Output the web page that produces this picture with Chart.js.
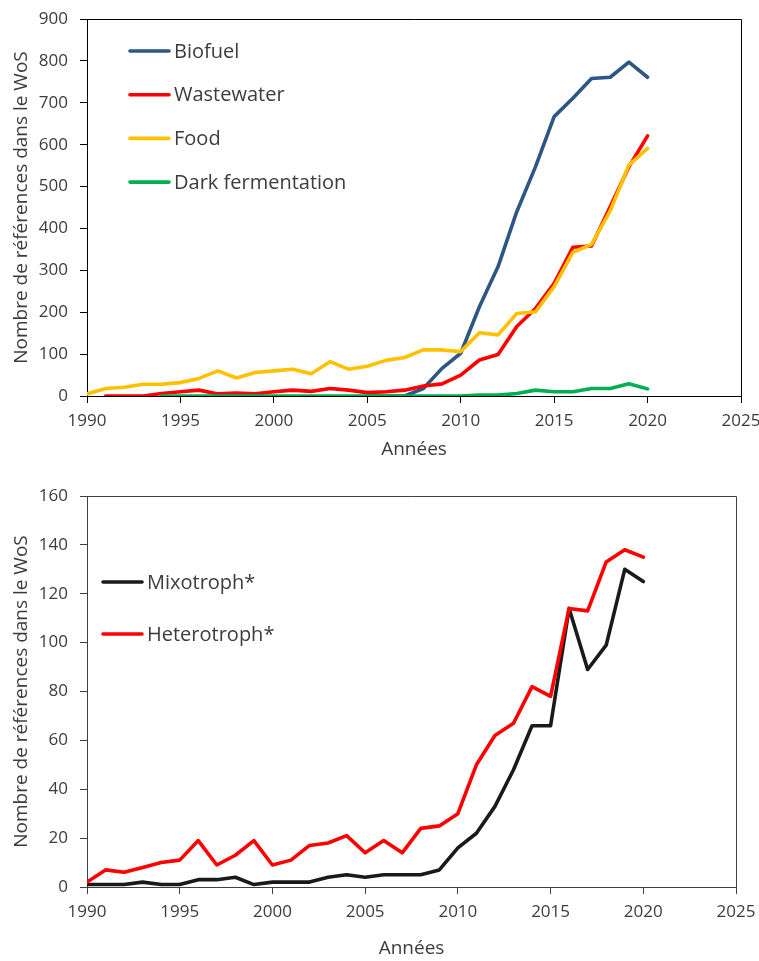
<!DOCTYPE html>
<html>
<head>
<meta charset="utf-8">
<script src="https://cdn.jsdelivr.net/npm/chart.js@4.4.1/dist/chart.umd.min.js"></script>
<style>
  body { margin: 0; background: #fff; width: 759px; height: 961px; position: relative; overflow: hidden; }
  .box { position: absolute; left: 0; width: 759px; }
</style>
</head>
<body>
<div class="box" style="top:0;height:470px"><canvas id="chart-top" width="759" height="470"></canvas></div>
<div class="box" style="top:480px;height:481px"><canvas id="chart-bottom" width="759" height="481"></canvas></div>
<script>
// data
const years = [1990, 1991, 1992, 1993, 1994, 1995, 1996, 1997, 1998, 1999,
               2000, 2001, 2002, 2003, 2004, 2005, 2006, 2007, 2008, 2009,
               2010, 2011, 2012, 2013, 2014, 2015, 2016, 2017, 2018, 2019, 2020]

const biofuel = [null, null, null, null, null, null, null, null, null, null,
                 null, null, null, null, null, 0, 0, 0, 18, 66,
                 102, 213, 309, 440, 547, 667, 711, 758, 761, 797, 761]
const wastewater = [null, 0, 0, 0, 6, 10, 14, 5, 7, 5,
                    10, 14, 11, 18, 14, 8, 10, 14, 24, 29,
                    50, 86, 99, 166, 209, 269, 355, 358, 452, 547, 621]
const food = [5, 18, 21, 28, 28, 32, 42, 60, 43, 56,
              60, 64, 53, 82, 64, 71, 85, 92, 110, 110,
              106, 151, 146, 197, 201, 261, 343, 362, 442, 551, 591]
const darkFermentation = [null, null, null, null, 0, 0, 0, 0, 0, 0,
                          0, 0, 0, 0, 0, 0, 0, 0, 0, 0,
                          0, 2, 2, 6, 14, 10, 10, 18, 18, 29, 17]

const mixotroph = [1, 1, 1, 2, 1, 1, 3, 3, 4, 1,
                   2, 2, 2, 4, 5, 4, 5, 5, 5, 7,
                   16, 22, 33, 48, 66, 66, 114, 89, 99, 130, 125]
const heterotroph = [2, 7, 6, 8, 10, 11, 19, 9, 13, 19,
                     9, 11, 17, 18, 21, 14, 19, 14, 24, 25,
                     30, 50, 62, 67, 82, 78, 114, 113, 133, 138, 135]

const xTicks = { min: 1990, max: 2025, step: 5 }
const yTicksTop = { min: 0, max: 900, step: 100 }
const yTicksBottom = { min: 0, max: 160, step: 20 }

const xTitle = "Années"
const yTitle = "Nombre de références dans le WoS"

const FONT = "'Open Sans', 'DejaVu Sans', sans-serif"
const TXT = "#3c3c3c"

function points(vals) {
  const out = []
  vals.forEach((v, i) => { if (v !== null) out.push({ x: years[i], y: v }) })
  return out
}

function line(label, vals, color, order) {
  return {
    label: label,
    data: points(vals),
    borderColor: color,
    backgroundColor: color,
    borderWidth: 3.6,
    pointRadius: 0,
    tension: 0,
    borderJoinStyle: "round",
    borderCapStyle: "round",
    order: order
  }
}

// top + right border of the plot
const framePlugin = {
  id: "frame",
  afterDraw(chart, args, opts) {
    const { ctx, chartArea: a } = chart
    ctx.save()
    ctx.strokeStyle = opts.color
    ctx.lineWidth = 1
    ctx.beginPath()
    ctx.moveTo(a.left, a.top + 0.5)
    ctx.lineTo(a.right + 0.5, a.top + 0.5)
    ctx.lineTo(a.right + 0.5, a.bottom)
    ctx.stroke()
    ctx.restore()
  }
}

// legend inside the plot, top left
const legendPlugin = {
  id: "inLegend",
  afterDraw(chart, args, opts) {
    const { ctx, chartArea: a } = chart
    ctx.save()
    ctx.font = "20px " + FONT
    ctx.textBaseline = "middle"
    ctx.textAlign = "left"
    chart.data.datasets.forEach((ds, i) => {
      const y = a.top + opts.top + i * opts.gap
      const x0 = a.left + opts.left
      ctx.strokeStyle = ds.borderColor
      ctx.lineWidth = 3.6
      ctx.lineCap = "round"
      ctx.beginPath()
      ctx.moveTo(x0, y)
      ctx.lineTo(x0 + 39, y)
      ctx.stroke()
      ctx.fillStyle = TXT
      ctx.fillText(ds.label, x0 + 44, y + 1)
    })
    ctx.restore()
  }
}

function makeOptions(yt, cfg) {
  return {
    responsive: false,
    animation: false,
    layout: { padding: { top: cfg.padTop, right: cfg.padRight, left: 0, bottom: 0 } },
    plugins: {
      legend: { display: false },
      tooltip: { enabled: false },
      frame: { color: cfg.axisColor },
      inLegend: { top: cfg.legTop, left: cfg.legLeft, gap: cfg.legGap }
    },
    scales: {
      x: {
        type: "linear",
        min: xTicks.min,
        max: xTicks.max,
        afterFit: (s) => { s.height = cfg.xHeight; s.paddingLeft = 0; s.paddingRight = 0 },
        ticks: {
          stepSize: xTicks.step,
          color: TXT,
          font: { family: FONT, size: 17 },
          padding: 8,
          maxRotation: 0,
          callback: (v) => String(v)
        },
        grid: { drawOnChartArea: false, tickLength: 7, color: cfg.axisColor },
        border: { color: cfg.axisColor, width: 1 },
        title: {
          display: true,
          text: xTitle,
          color: TXT,
          font: { family: FONT, size: 19 },
          padding: { top: 0, bottom: cfg.xTitlePad }
        }
      },
      y: {
        min: yt.min,
        max: yt.max,
        afterFit: (s) => { s.width = 87; s.paddingTop = 0; s.paddingBottom = 0 },
        ticks: {
          stepSize: yt.step,
          color: TXT,
          font: { family: FONT, size: 17 },
          padding: 12
        },
        grid: { drawOnChartArea: false, tickLength: 7, color: cfg.axisColor },
        border: { color: cfg.axisColor, width: 1 },
        title: {
          display: true,
          text: yTitle,
          color: TXT,
          font: { family: FONT, size: 19 },
          padding: { top: 10, bottom: 0 }
        }
      }
    }
  }
}

new Chart(document.getElementById("chart-top"), {
  type: "line",
  data: {
    datasets: [
      line("Biofuel", biofuel, "#2c5784", 3),
      line("Wastewater", wastewater, "#ff0000", 2),
      line("Food", food, "#ffc000", 1),
      line("Dark fermentation", darkFermentation, "#00b050", 0)
    ]
  },
  options: makeOptions(yTicksTop, {
    padTop: 19, padRight: 18, xHeight: 74, xTitlePad: 9, axisColor: "#000000",
    legTop: 32, legLeft: 43, legGap: 43.7
  }),
  plugins: [framePlugin, legendPlugin]
})

new Chart(document.getElementById("chart-bottom"), {
  type: "line",
  data: {
    datasets: [
      line("Mixotroph*", mixotroph, "#1a1a1a", 1),
      line("Heterotroph*", heterotroph, "#ff0000", 0)
    ]
  },
  options: makeOptions(yTicksBottom, {
    padTop: 16, padRight: 23, xHeight: 74, xTitlePad: 1, axisColor: "#404040",
    legTop: 86, legLeft: 16, legGap: 52
  }),
  plugins: [framePlugin, legendPlugin]
})
</script>
</body>
</html>
